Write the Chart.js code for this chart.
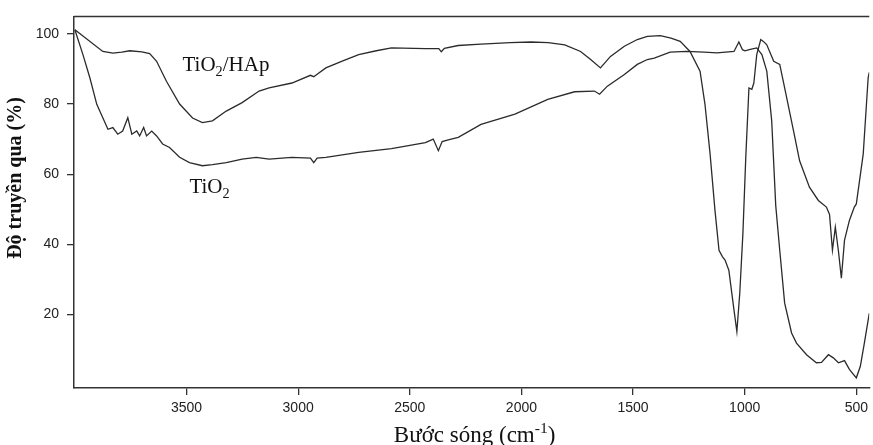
<!DOCTYPE html>
<html>
<head>
<meta charset="utf-8">
<script src="https://cdn.jsdelivr.net/npm/chart.js@4/dist/chart.umd.min.js"></script>
<style>
  body { margin: 0; background: #fff; }
  canvas { display: block; }
</style>
</head>
<body>
<canvas id="ftir" width="873" height="445"></canvas>
<script>
// wavenumber (cm-1) and transmittance (%)
let hapWave = [4000, 3875, 3830, 3790, 3754, 3700, 3665, 3634, 3590, 3531, 3473, 3429, 3384, 3322, 3251, 3175, 3130,
    3028, 2945, 2930, 2915, 2876, 2800, 2729, 2650, 2582, 2430, 2370, 2359, 2345, 2283, 2181, 2050, 1958, 1880,
    1806, 1735, 1690, 1646, 1601, 1539, 1481, 1436, 1378, 1330, 1289, 1245, 1200, 1178, 1155, 1133, 1115, 1100,
    1088, 1071, 1048, 1035, 1022, 1008, 995, 981, 968, 959, 946, 928, 915, 901, 870, 843, 821, 781, 754, 710,
    670, 634, 620, 607, 594, 580, 567, 553, 531, 509, 500, 469, 447, 442];
let hapT = [101.2, 95.0, 94.5, 94.8, 95.2, 94.9, 94.4, 92.2, 86.5, 80.0, 76.0, 74.7, 75.2, 78.0, 80.4, 83.7, 84.6,
    86.0, 88.2, 87.8, 88.5, 90.3, 92.3, 94.1, 95.2, 96.0, 95.8, 95.8, 94.9, 95.9, 96.7, 97.1, 97.5, 97.7, 97.5,
    96.9, 95.0, 92.7, 90.3, 93.6, 96.5, 98.4, 99.3, 99.5, 98.8, 97.9, 95.0, 89.4, 80.0, 65.8, 49.6, 38.3, 36.5,
    35.5, 32.6, 21.3, 15.1, 26.1, 43.1, 65.0, 84.6, 84.2, 86.0, 94.1, 98.4, 97.8, 96.9, 92.2, 91.3, 84.6, 72.3, 63.8, 56.3,
    52.5, 50.6, 48.5, 38.3, 44.9, 38.0, 30.3, 41.1, 46.8, 50.6, 51.5, 65.8, 87.5, 89.0];

let tioWave = [4000, 3964, 3933, 3902, 3875, 3852, 3830, 3808, 3786, 3763, 3745, 3723, 3710, 3692, 3679, 3656, 3634,
    3607, 3576, 3531, 3487, 3429, 3384, 3322, 3251, 3188, 3130, 3028, 2945, 2930, 2915, 2876, 2729, 2582, 2430,
    2395, 2372, 2355, 2328, 2283, 2181, 2029, 1882, 1762, 1673, 1650, 1615, 1539, 1481, 1436, 1405, 1334, 1260,
    1182, 1124, 1048, 1026, 1010, 999, 975, 946, 923, 901, 879, 861, 843, 821, 790, 768, 723, 679, 656, 625,
    603, 580, 553, 531, 500, 482, 464, 442];
let tioT = [101.2, 94.1, 87.5, 79.9, 76.1, 72.8, 73.3, 71.4, 72.3, 76.1, 71.4, 72.3, 70.9, 73.3, 70.9, 72.3, 70.9,
    68.6, 67.6, 64.8, 63.3, 62.4, 62.7, 63.3, 64.3, 64.8, 64.3, 64.8, 64.6, 63.3, 64.6, 64.8, 66.2, 67.3, 69.0,
    70.0, 66.7, 69.3, 69.8, 70.5, 74.2, 77.1, 81.3, 83.5, 83.7, 82.8, 85.1, 88.4, 91.3, 92.7, 93.1, 94.8, 95.0,
    94.8, 94.6, 95.0, 97.7, 95.5, 95.2, 95.6, 96.0, 94.1, 89.4, 75.2, 51.1, 38.3, 23.2, 14.7, 11.8, 8.5, 6.2, 6.3, 8.5,
    7.6, 6.2, 6.8, 4.3, 1.9, 5.2, 11.8, 20.3];

let xTicks = [3500, 3000, 2500, 2000, 1500, 1000, 500];
let yTicks = [20, 40, 60, 80, 100];

function toPoints(xs, ys) {
    return xs.map((x, i) => ({ x: x, y: ys[i] }));
}

// draws text made of pieces, some of them sub- or superscript
function richText(ctx, x, y, pieces, size) {
    let cx = x;
    pieces.forEach(p => {
        let s = p.sub || p.sup ? size * 0.68 : size;
        let dy = p.sub ? size * 0.22 : (p.sup ? -size * 0.38 : 0);
        ctx.font = s + 'px "Liberation Serif"';
        ctx.fillText(p.t, cx, y + dy);
        cx += ctx.measureText(p.t).width;
    });
    return cx - x;
}

function richWidth(ctx, pieces, size) {
    let w = 0;
    pieces.forEach(p => {
        let s = p.sub || p.sup ? size * 0.68 : size;
        ctx.font = s + 'px "Liberation Serif"';
        w += ctx.measureText(p.t).width;
    });
    return w;
}

const decorations = {
    id: 'decorations',
    afterDraw(chart) {
        let ctx = chart.ctx;
        let area = chart.chartArea;
        let xs = chart.scales.x, ys = chart.scales.y;
        ctx.save();
        // top frame line
        ctx.strokeStyle = '#333';
        ctx.lineWidth = 1.5;
        ctx.beginPath();
        ctx.moveTo(area.left, area.top);
        ctx.lineTo(area.right, area.top);
        ctx.stroke();

        ctx.fillStyle = '#111';
        ctx.textBaseline = 'alphabetic';
        ctx.textAlign = 'left';
        // curve labels
        richText(ctx, xs.getPixelForValue(3518), ys.getPixelForValue(89.4),
            [{ t: 'TiO' }, { t: '2', sub: true }, { t: '/HAp' }], 21);
        richText(ctx, xs.getPixelForValue(3487), ys.getPixelForValue(54.5),
            [{ t: 'TiO' }, { t: '2', sub: true }], 21);

        // x axis title
        let xt = [{ t: 'Bước sóng (cm' }, { t: '-1', sup: true }, { t: ')' }];
        let w = richWidth(ctx, xt, 23);
        richText(ctx, (area.left + area.right) / 2 - w / 2 + 3, 442, xt, 23);

        // y axis title
        ctx.translate(21, 178);
        ctx.rotate(-Math.PI / 2);
        ctx.textAlign = 'center';
        ctx.font = 'bold 20px "Liberation Serif"';
        ctx.fillText('Độ truyền qua (%)', 0, 0);
        ctx.restore();
    }
};

const tickFont = { family: '"Liberation Sans", Arial, sans-serif', size: 14 };

let chart = new Chart(document.getElementById('ftir').getContext('2d'), {
    type: 'line',
    data: {
        datasets: [{
            label: 'TiO2/HAp',
            data: toPoints(hapWave, hapT),
            borderColor: '#2b2b2b',
            borderWidth: 1.3,
            pointRadius: 0,
            tension: 0
        }, {
            label: 'TiO2',
            data: toPoints(tioWave, tioT),
            borderColor: '#2b2b2b',
            borderWidth: 1.3,
            pointRadius: 0,
            tension: 0
        }]
    },
    options: {
        responsive: false,
        animation: false,
        layout: { padding: { top: 15, right: 0, left: 0, bottom: 0 } },
        plugins: {
            legend: { display: false },
            tooltip: { enabled: false }
        },
        scales: {
            x: {
                type: 'linear',
                reverse: true,
                min: 442,
                max: 4004,
                afterBuildTicks: s => { s.ticks = xTicks.map(v => ({ value: v })); },
                afterFit: s => { s.height = 57; },
                grid: { drawOnChartArea: false, drawTicks: true, tickLength: 7, color: '#333', lineWidth: 1.3 },
                border: { display: true, color: '#333', width: 1.5 },
                ticks: { font: tickFont, color: '#222', padding: 5, maxRotation: 0, callback: v => String(v) }
            },
            y: {
                min: -1,
                max: 105,
                afterBuildTicks: s => { s.ticks = yTicks.map(v => ({ value: v })); },
                afterFit: s => { s.width = 74; },
                grid: { drawOnChartArea: false, drawTicks: true, tickLength: 7, color: '#333', lineWidth: 1.3 },
                border: { display: true, color: '#333', width: 1.5 },
                ticks: { font: tickFont, color: '#222', padding: 8, callback: v => String(v) }
            }
        }
    },
    plugins: [decorations]
});
</script>
</body>
</html>
